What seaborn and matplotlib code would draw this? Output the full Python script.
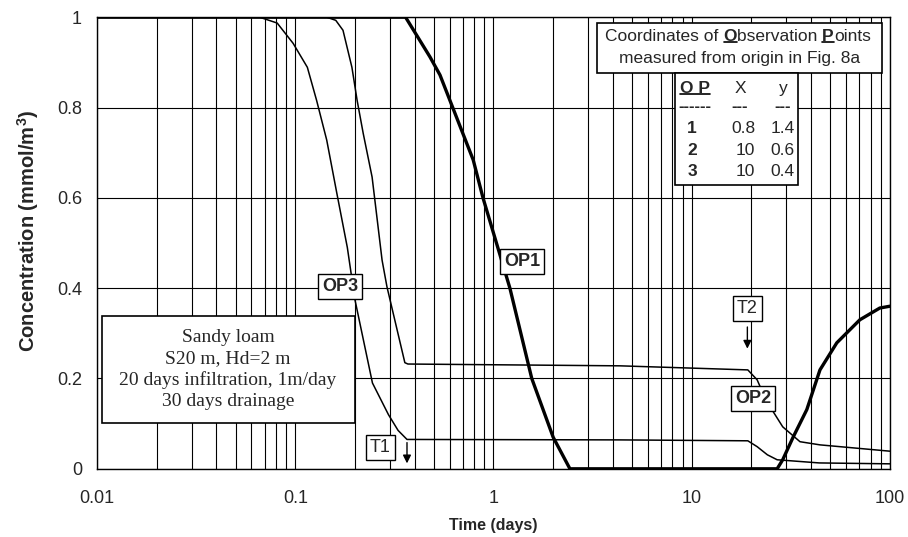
import matplotlib
matplotlib.use('Agg')
import matplotlib.pyplot as plt
from matplotlib.patches import Rectangle
from matplotlib.lines import Line2D
from matplotlib.transforms import IdentityTransform
from matplotlib.ticker import FuncFormatter, LogLocator, MultipleLocator
import numpy as np
import seaborn as sns

# breakthrough curves (time in days, concentration mmol/m3)
op1_t = [0.01, 0.36, 0.478, 0.537, 0.68, 0.79, 0.885, 1.21, 1.56, 2.0, 2.43,
         27.0, 28.8, 32.5, 38.1, 44.4, 54.0, 70.6, 89.0, 100.0]
op1_c = [1.0, 1.0, 0.912, 0.872, 0.757, 0.684, 0.60, 0.40, 0.20, 0.07, 0.0,
         0.0, 0.02, 0.07, 0.131, 0.219, 0.279, 0.33, 0.356, 0.36]

op2_t = [0.01, 0.144, 0.16, 0.174, 0.193, 0.205, 0.22, 0.244, 0.274, 0.29, 0.357, 0.37,
         4.35, 19.2, 21.4, 22.2, 25.4, 28.8, 35.2, 44.4, 100.0]
op2_c = [1.0, 1.0, 0.993, 0.971, 0.889, 0.816, 0.743, 0.646, 0.462, 0.403, 0.235, 0.232,
         0.228, 0.219, 0.197, 0.181, 0.131, 0.093, 0.06, 0.053, 0.039]

op3_t = [0.01, 0.066, 0.081, 0.0975, 0.115, 0.128, 0.144, 0.162, 0.183, 0.2, 0.245,
         0.295, 0.33, 0.366, 4.35, 19.2, 21.4, 24.1, 27.0, 44.0, 100.0]
op3_c = [1.0, 1.0, 0.987, 0.942, 0.889, 0.816, 0.728, 0.61, 0.49, 0.374, 0.19,
         0.12, 0.085, 0.065, 0.064, 0.062, 0.049, 0.031, 0.02, 0.013, 0.011]

# observation point table
op_ids = ['1', '2', '3']
op_x = ['0.8', '10', '10']
op_y = ['1.4', '0.6', '0.4']

box_lines = ['Sandy loam', 'S20 m, Hd=2 m', '20 days infiltration, 1m/day', '30 days drainage']

sns.set_style('white')
plt.rcParams['font.family'] = ['Liberation Sans', 'DejaVu Sans']
plt.rcParams['mathtext.default'] = 'regular'

fig = plt.figure(figsize=(9.08, 5.37), dpi=100)
ax = fig.add_axes([0.107, 0.127, 0.873, 0.841])

sns.lineplot(x=op3_t, y=op3_c, color='black', lw=1.1, estimator=None, sort=False, ax=ax)
sns.lineplot(x=op2_t, y=op2_c, color='black', lw=1.1, estimator=None, sort=False, ax=ax)
sns.lineplot(x=op1_t, y=op1_c, color='black', lw=2.4, estimator=None, sort=False, ax=ax)

ax.set_xscale('log')
ax.set_xlim(0.01, 100)
ax.set_ylim(0, 1)
ax.xaxis.set_major_locator(LogLocator(base=10, numticks=10))
ax.xaxis.set_minor_locator(LogLocator(base=10, subs=np.arange(2, 10), numticks=50))
ax.yaxis.set_major_locator(MultipleLocator(0.2))
fmt = FuncFormatter(lambda v, p: f'{v:g}')
ax.xaxis.set_major_formatter(fmt)
ax.yaxis.set_major_formatter(fmt)

ax.set_axisbelow(True)
ax.grid(which='major', axis='both', color='black', lw=0.8)
ax.grid(which='minor', axis='x', color='black', lw=0.8)
for s in ax.spines.values():
    s.set_color('black')
    s.set_linewidth(1.0)
ax.tick_params(which='major', direction='out', length=6, width=0.8, color='black',
               labelsize=13, pad=5)
ax.tick_params(axis='x', which='major', pad=9)
ax.tick_params(which='minor', length=0)

ax.set_xlabel('Time (days)', fontsize=11.5, fontweight='bold', labelpad=8)
ax.set_ylabel('Concentration (mmol/m$^{3}$)', fontsize=14.5, fontweight='bold')
ax.yaxis.set_label_coords(-0.071, 0.527)

# left info box
ax.add_patch(Rectangle((0.0063, 0.102), 0.319, 0.236, transform=ax.transAxes,
                       fc='white', ec='black', lw=1.2, zorder=5))
ax.text(0.165, 0.22, '\n'.join(box_lines), transform=ax.transAxes, ha='center', va='center',
        family=['Liberation Serif', 'DejaVu Serif'], fontsize=14, linespacing=1.3, zorder=6)

# curve labels
lab_box = dict(boxstyle='square,pad=0.22', fc='white', ec='black', lw=1.0)
ax.text(1.40, 0.459, 'OP1', fontsize=13, fontweight='bold', ha='center', va='center', bbox=lab_box, zorder=6)
ax.text(20.4, 0.155, 'OP2', fontsize=13, fontweight='bold', ha='center', va='center', bbox=lab_box, zorder=6)
ax.text(0.168, 0.404, 'OP3', fontsize=13, fontweight='bold', ha='center', va='center', bbox=lab_box, zorder=6)
ax.text(0.269, 0.048, 'T1', fontsize=13, ha='center', va='center', bbox=lab_box, zorder=6)
ax.text(19.1, 0.354, 'T2', fontsize=13, ha='center', va='center', bbox=lab_box, zorder=6)
arrow = dict(arrowstyle='-|>', color='black', lw=1.0, shrinkA=0, shrinkB=0, mutation_scale=12)
ax.annotate('', xy=(0.366, 0.012), xytext=(0.366, 0.058), arrowprops=arrow, zorder=6)
ax.annotate('', xy=(19.1, 0.266), xytext=(19.1, 0.314), arrowprops=arrow, zorder=6)

# coordinates box top right
ax.add_patch(Rectangle((0.631, 0.876), 0.359, 0.111, transform=ax.transAxes,
                       fc='white', ec='black', lw=1.2, zorder=5))
ax.add_patch(Rectangle((0.729, 0.628), 0.155, 0.248, transform=ax.transAxes,
                       fc='white', ec='black', lw=1.2, zorder=5))

underline = []
t = ax.text(0.641, 0.958, 'Coordinates of ', transform=ax.transAxes, fontsize=12.5,
            ha='left', va='center', zorder=6)
for chunk, bold in [('O', True), ('bservation ', False), ('P', True), ('oints', False)]:
    t = ax.annotate(chunk, xy=(1, 0), xycoords=t, ha='left', va='bottom', fontsize=12.5,
                    fontweight='bold' if bold else 'normal', zorder=6)
    if bold:
        underline.append(t)
ax.text(0.811, 0.909, 'measured from origin in Fig. 8a', transform=ax.transAxes, fontsize=12.5,
        ha='center', va='center', zorder=6)

hdr = ax.text(0.754, 0.843, 'O P', transform=ax.transAxes, fontsize=12.5, fontweight='bold',
              ha='center', va='center', zorder=6)
underline.append(hdr)
ax.text(0.811, 0.843, 'X', transform=ax.transAxes, fontsize=12.5, ha='center', va='center', zorder=6)
ax.text(0.865, 0.843, 'y', transform=ax.transAxes, fontsize=12.5, ha='center', va='center', zorder=6)
for xx, dash in [(0.754, '------'), (0.811, '---'), (0.865, '---')]:
    ax.text(xx, 0.802, dash, transform=ax.transAxes, fontsize=12, fontweight='bold',
            ha='center', va='center', zorder=6)
for i, yy in enumerate([0.754, 0.705, 0.659]):
    ax.text(0.7566, yy, op_ids[i], transform=ax.transAxes, fontsize=12.5, fontweight='bold',
            ha='right', va='center', zorder=6)
    ax.text(0.830, yy, op_x[i], transform=ax.transAxes, fontsize=12.5, ha='right', va='center', zorder=6)
    ax.text(0.880, yy, op_y[i], transform=ax.transAxes, fontsize=12.5, ha='right', va='center', zorder=6)

fig.canvas.draw()
for tx in underline:
    bb = tx.get_window_extent()
    fig.add_artist(Line2D([bb.x0, bb.x1], [bb.y0 + 1.5, bb.y0 + 1.5], transform=IdentityTransform(),
                          color='black', lw=1.2, zorder=7))

fig.savefig('out.png', dpi=100)
